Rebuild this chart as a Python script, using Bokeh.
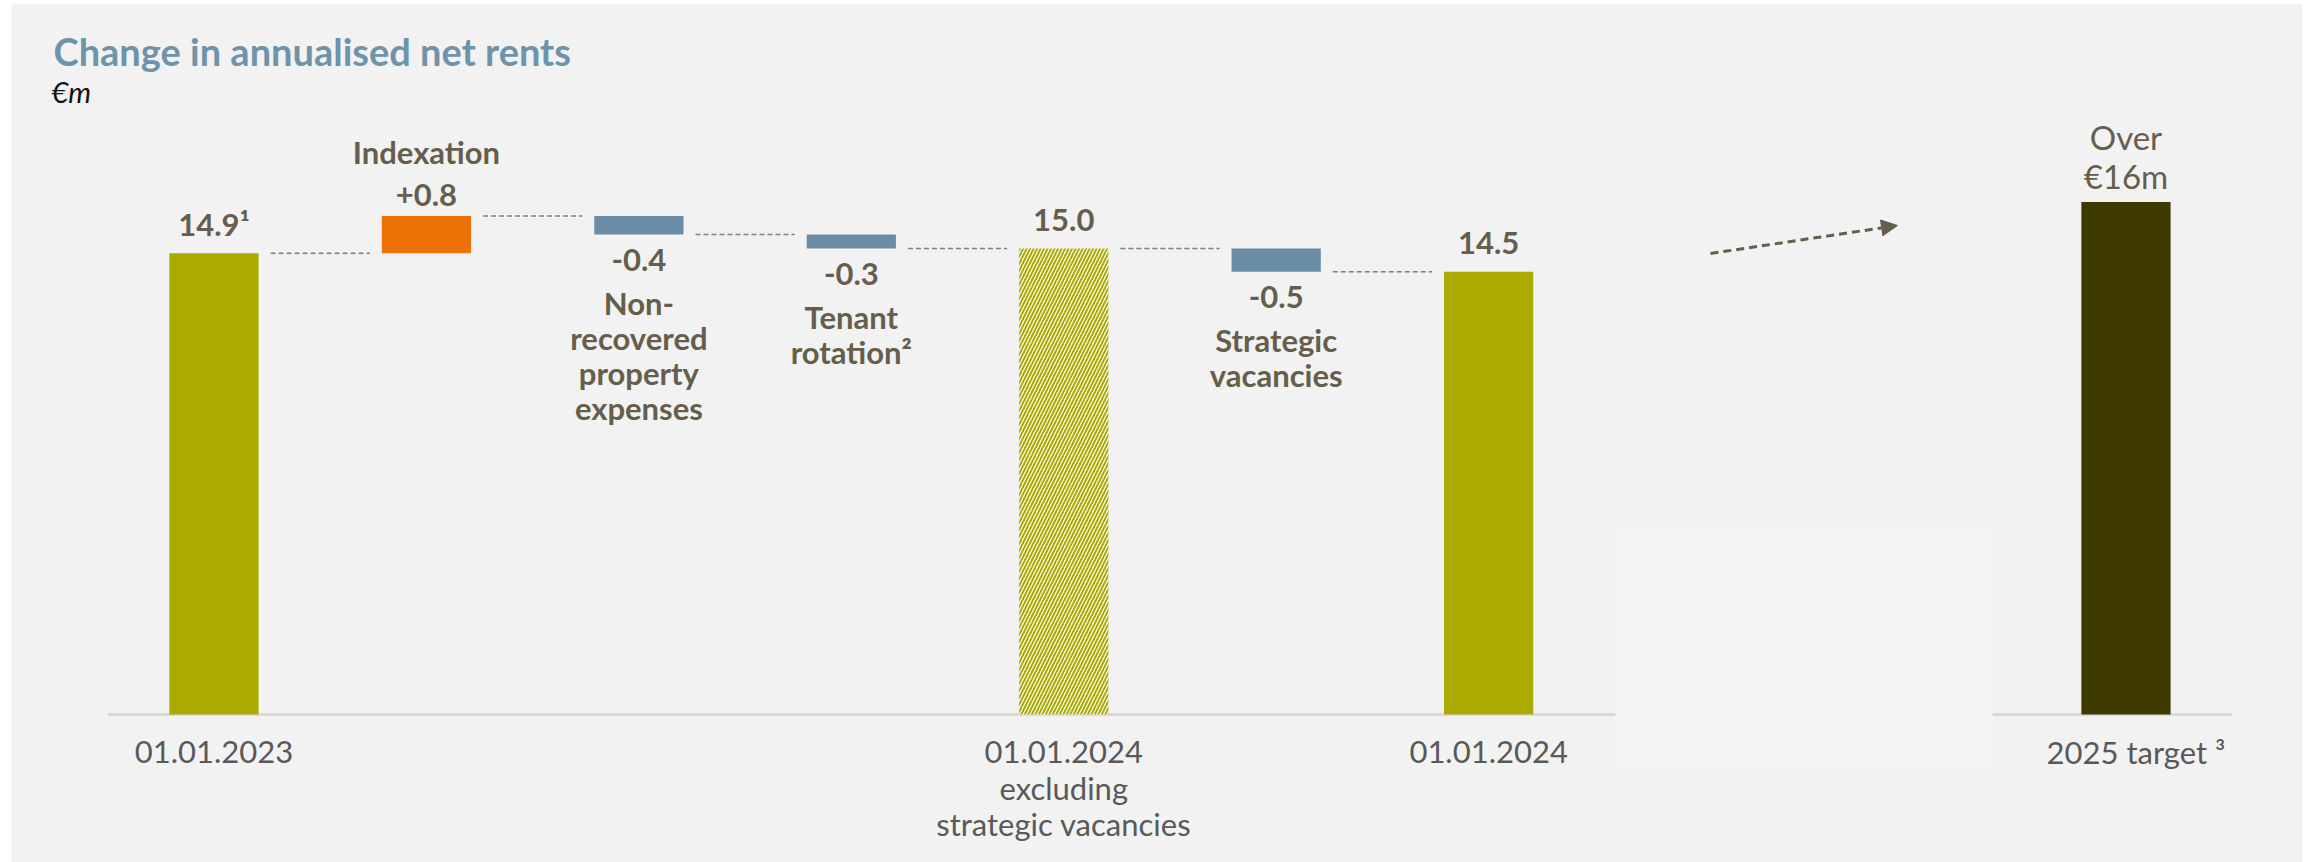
from bokeh.plotting import figure
from bokeh.models import Range1d, Arrow, NormalHead
from bokeh.core.properties import value
from bokeh.embed import file_html
from bokeh.resources import INLINE

# ---------------- data ----------------
step_kinds = ["total", "delta", "delta", "delta", "subtotal", "delta", "total"]
step_amounts = [14.9, 0.8, -0.4, -0.3, 15.0, -0.5, 14.5]
value_labels = ["14.9¹", "+0.8", "-0.4", "-0.3", "15.0", "-0.5", "14.5"]
step_names = ["", "Indexation", "Non-\nrecovered\nproperty\nexpenses",
              "Tenant\nrotation²", "", "Strategic\nvacancies", ""]
axis_labels = ["01.01.2023", "", "", "", "01.01.2024\nexcluding\nstrategic vacancies",
               "", "01.01.2024"]
target_pos = 9
target_value = 16.0
target_label = "Over\n€16m"
target_axis_label = "2025 target ³"
axis_floor = 5.0  # the value axis is cut here

# ---------------- styling ----------------
W, H = 2310, 862
OLIVE = "#abaa00"
ORANGE = "#ec7205"
STEEL = "#6a8da5"
DARK = "#3e3a00"
LABEL = "#665e4c"
TICK = "#595959"
FONT = value("Lato")
BASELINE_SHIFT = -12  # lift text so the alphabetic baseline sits where intended

BAR_W = 0.42
X0_PX, DX_PX = 213.5, 212.44   # pixel of category 0, pixels per category
FLOOR_PX, DY_PX = 714.0, 46.6  # pixel of the axis floor, pixels per €m
LEFT, RIGHT, TOP, BOTTOM = 11, 2302, 4, 862


def xpx(px):
    return (px - X0_PX) / DX_PX


def ypx(py):
    return axis_floor + (FLOOR_PX - py) / DY_PX


p = figure(width=W, height=H,
           x_range=Range1d(xpx(LEFT), xpx(RIGHT)),
           y_range=Range1d(ypx(BOTTOM), ypx(TOP)),
           min_border_left=LEFT, min_border_right=W - RIGHT,
           min_border_top=TOP, min_border_bottom=H - BOTTOM,
           x_axis_location=None, y_axis_location=None,
           toolbar_location=None, output_backend="svg")
p.background_fill_color = "#f2f2f2"
p.border_fill_color = "white"
p.outline_line_color = None
p.title.visible = False
for g in p.grid:
    g.visible = False

# category axis line, broken between the waterfall and the target
p.segment(x0=[-0.5], y0=[axis_floor], x1=[target_pos + 0.5], y1=[axis_floor],
          line_color="#d9d9d9", line_width=3)
p.quad(left=[xpx(1615)], right=[xpx(1992)], bottom=[ypx(770)], top=[ypx(530)],
       fill_color="#f4f4f4", line_color=None)

# ---------------- waterfall geometry ----------------
bottoms, tops, colors, levels = [], [], [], []
level = 0.0
for kind, amt in zip(step_kinds, step_amounts):
    if kind in ("total", "subtotal"):
        level = amt
        bottoms.append(axis_floor)
        tops.append(amt)
        colors.append(OLIVE)
    else:
        new = level + amt
        bottoms.append(min(level, new))
        tops.append(max(level, new))
        colors.append(ORANGE if amt > 0 else STEEL)
        level = new
    levels.append(level)

xs = list(range(len(step_amounts)))
solid = [i for i, k in enumerate(step_kinds) if k != "subtotal"]
hatched = [i for i, k in enumerate(step_kinds) if k == "subtotal"]

p.vbar(x=[xs[i] for i in solid], width=BAR_W,
       bottom=[bottoms[i] for i in solid], top=[tops[i] for i in solid],
       fill_color=[colors[i] for i in solid], line_color=None)
p.vbar(x=[xs[i] for i in hatched], width=BAR_W,
       bottom=[bottoms[i] for i in hatched], top=[tops[i] for i in hatched],
       fill_color="white", line_color=None,
       hatch_pattern="/", hatch_color=OLIVE, hatch_scale=7, hatch_weight=2)

# dashed connectors between consecutive bars
gap = 12 / DX_PX
p.segment(x0=[i + BAR_W / 2 + gap for i in xs[:-1]], y0=levels[:-1],
          x1=[i + 1 - BAR_W / 2 - gap for i in xs[:-1]], y1=levels[:-1],
          line_color="#858075", line_width=1.5, line_dash="5 3")

# target bar
p.vbar(x=[target_pos], width=BAR_W, bottom=[axis_floor], top=[target_value],
       fill_color=DARK, line_color=None)


def put(x, y, txt, size, style="bold", color=LABEL, yoff=0, xoff=0, align="center"):
    p.text(x=[x], y=[y], text=[txt], text_font=FONT, text_font_size=f"{size}px",
           text_font_style=style, text_color=color, text_align=align,
           text_baseline="alphabetic", y_offset=yoff + BASELINE_SHIFT, x_offset=xoff)


# value and step labels
for i, kind in enumerate(step_kinds):
    names = step_names[i].split("\n") if step_names[i] else []
    if kind in ("total", "subtotal"):
        put(xs[i], tops[i], value_labels[i], 31, yoff=-17)
    elif step_amounts[i] > 0:
        put(xs[i], tops[i], value_labels[i], 31, yoff=-9)
        for k, line in enumerate(reversed(names)):
            put(xs[i], tops[i], line, 31, yoff=-9 - 43 - 35 * k)
    else:
        put(xs[i], bottoms[i], value_labels[i], 31, yoff=37)
        for k, line in enumerate(names):
            put(xs[i], bottoms[i], line, 31, yoff=37 + 43 + 35 * k)

# target label
t_lines = target_label.split("\n")
for k, line in enumerate(reversed(t_lines)):
    put(target_pos, target_value, line, 33, style="normal", yoff=-14 - 39 * k)

# category labels under the axis
for i, lab in enumerate(axis_labels):
    for k, line in enumerate(lab.split("\n") if lab else []):
        put(xs[i], axis_floor, line, 31, style="normal", color=TICK, yoff=49 + 36 * k)
put(target_pos, axis_floor, target_axis_label, 31, style="normal", color=TICK,
    yoff=49, xoff=10)

# heading and unit
put(xpx(53), ypx(62), "Change in annualised net rents", 38, color="#6e93ab", align="left")
put(xpx(51), ypx(103), "€m", 29, style="italic", color="#111111", align="left")

# trend arrow towards the target
p.add_layout(Arrow(x_start=xpx(1710), y_start=ypx(253), x_end=xpx(1897), y_end=ypx(225),
                   line_color=LABEL, line_width=3, line_dash="8 5",
                   end=NormalHead(size=16, fill_color=LABEL, line_color=LABEL)))

open("out.html", "w").write(file_html(p, INLINE))
